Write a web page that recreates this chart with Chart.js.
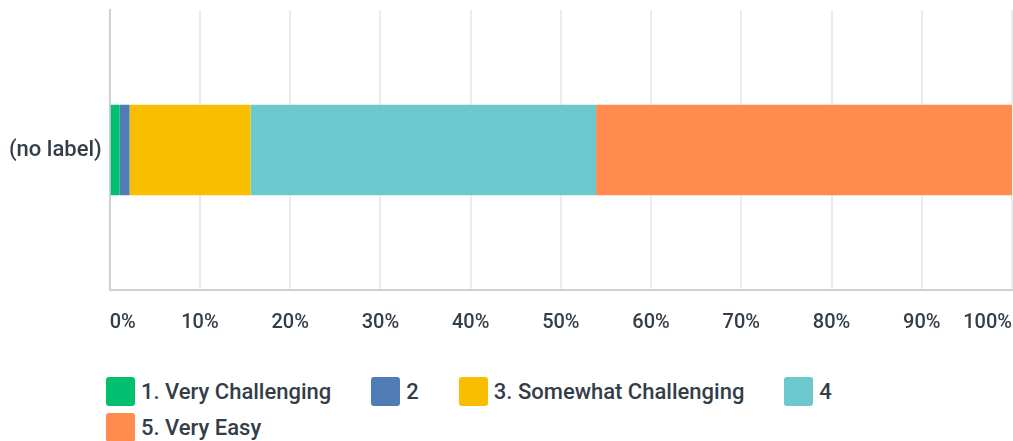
<!DOCTYPE html>
<html>
<head>
<meta charset="utf-8">
<script src="https://cdn.jsdelivr.net/npm/chart.js@4/dist/chart.umd.min.js"></script>
<style>
  html, body { margin: 0; padding: 0; background: #fff; }
  body { width: 1013px; height: 441px; position: relative; overflow: hidden; font-family: Roboto, "Open Sans", sans-serif; }
  #wrap { position: absolute; left: 0; top: 0; width: 1013px; height: 356px; }
  #legend { position: absolute; left: 106px; top: 377px; width: 907px; display: flex; flex-wrap: wrap; row-gap: 7px; }
  .item { display: flex; align-items: center; margin-right: 40px; height: 29px; font-size: 22px; font-weight: 500; color: #333e48; white-space: nowrap; }
  .box { width: 29px; height: 29px; border-radius: 3px; margin-right: 6px; }
</style>
</head>
<body>
<div id="wrap"><canvas id="c"></canvas></div>
<div id="legend"></div>
<script>
const categories = ["(no label)"];
const seriesNames = ["1. Very Challenging", "2", "3. Somewhat Challenging", "4", "5. Very Easy"];
const seriesValues = [
  [1.1],
  [1.1],
  [13.4],
  [38.3],
  [46.1]
];
const seriesColors = ["#00bf6f", "#507cb6", "#f9be00", "#6bc8cd", "#ff8b4f"];
const tickValues = [0, 10, 20, 30, 40, 50, 60, 70, 80, 90, 100];

const textColor = "#333e48";

const datasets = seriesNames.map((name, i) => ({
  label: name,
  data: seriesValues[i],
  backgroundColor: seriesColors[i],
  borderWidth: 0,
  categoryPercentage: 1,
  barPercentage: 0.323
}));

const zeroPad = (axis) => { axis.paddingLeft = 0; axis.paddingRight = 0; axis.paddingTop = 0; axis.paddingBottom = 0; };

new Chart(document.getElementById("c"), {
  type: "bar",
  data: { labels: categories, datasets },
  options: {
    indexAxis: "y",
    responsive: true,
    maintainAspectRatio: false,
    animation: false,
    layout: { padding: { left: 1, right: 1, top: 10, bottom: 0 } },
    plugins: { legend: { display: false }, tooltip: { enabled: false } },
    scales: {
      x: {
        stacked: true,
        min: 0,
        max: 100,
        afterBuildTicks: (axis) => { axis.ticks = tickValues.map(v => ({ value: v })); },
        afterFit: zeroPad,
        ticks: {
          callback: (v) => v + "%",
          align: "inner",
          padding: 21,
          color: textColor,
          font: { family: "Roboto", size: 20, weight: "500" }
        },
        grid: {
          drawTicks: false,
          color: (ctx) => ctx.index === 0 ? "#d0d0d0" : "#ececec",
          lineWidth: 2
        },
        border: { display: true, color: "#d0d0d0", width: 2 }
      },
      y: {
        stacked: true,
        afterFit: zeroPad,
        ticks: {
          padding: 8,
          color: textColor,
          font: { family: "Roboto", size: 22, weight: "500" }
        },
        grid: { display: false, drawTicks: false },
        border: { display: true, color: "#d0d0d0", width: 2 }
      }
    }
  }
});

const legend = document.getElementById("legend");
seriesNames.forEach((name, i) => {
  const it = document.createElement("div");
  it.className = "item";
  const b = document.createElement("span");
  b.className = "box";
  b.style.background = seriesColors[i];
  const t = document.createElement("span");
  t.textContent = name;
  it.appendChild(b); it.appendChild(t);
  legend.appendChild(it);
});
</script>
</body>
</html>
